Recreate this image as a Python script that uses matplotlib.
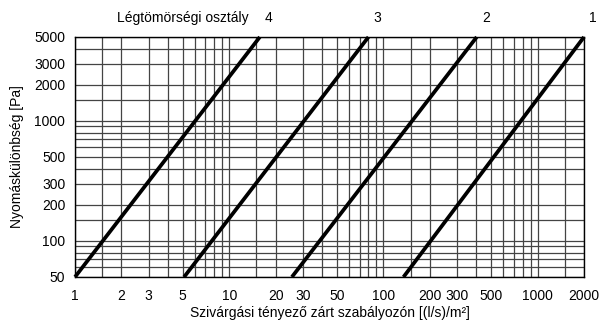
import matplotlib
matplotlib.use("Agg")
import matplotlib.pyplot as plt
from matplotlib.ticker import FixedLocator, NullFormatter

plt.rcParams['font.family'] = ['Liberation Sans', 'DejaVu Sans']

# leakage classes (lines)
classes = ['4', '3', '2', '1']
dp_ends = [50, 5000]                    # Pa
q_low = [1, 5.1, 25.5, 135]             # (l/s)/m2 at 50 Pa
q_high = [15.8, 80, 403, 2000]          # (l/s)/m2 at 5000 Pa

# axis ticks / grid
x_ticks = [1, 2, 3, 5, 10, 20, 30, 50, 100, 200, 300, 500, 1000, 2000]
y_ticks = [50, 100, 200, 300, 500, 1000, 2000, 3000, 5000]
mant = [1, 1.5, 2, 3, 4, 5, 6, 7, 8, 9]
x_grid = [m * 10**e for e in range(0, 4) for m in mant if m * 10**e <= 2000]
y_grid = [m * 10**e for e in range(1, 4) for m in mant if 50 <= m * 10**e <= 5000]

fig = plt.figure(figsize=(6.06, 3.2), dpi=100)
ax = fig.add_axes([75/606, 1-277/320, 509/606, 240/320])

ax.set_xscale('log')
ax.set_yscale('log')
ax.set_xlim(1, 2000)
ax.set_ylim(50, 5000)

ax.xaxis.set_minor_locator(FixedLocator(x_grid))
ax.yaxis.set_minor_locator(FixedLocator(y_grid))
ax.xaxis.set_minor_formatter(NullFormatter())
ax.yaxis.set_minor_formatter(NullFormatter())
ax.set_xticks(x_ticks, labels=[str(v) for v in x_ticks])
ax.set_yticks(y_ticks, labels=[str(v) for v in y_ticks])
ax.tick_params(which='both', length=0, labelsize=10)
ax.tick_params(axis='x', pad=9)
ax.tick_params(axis='y', pad=7)

ax.grid(which='both', color='#444444', lw=0.9)
ax.set_axisbelow(True)
for s in ax.spines.values():
    s.set_color('black')
    s.set_linewidth(1.0)

for name, a, b in zip(classes, q_low, q_high):
    ax.plot([a, b], dp_ends, color='black', lw=2.7, solid_capstyle='butt', zorder=3, clip_on=False)
    ax.annotate(name, xy=(b, dp_ends[1]), xytext=(6.5, 13.5), textcoords='offset points',
                ha='center', va='center', fontsize=10)

ax.annotate('Légtömörségi osztály', xy=(0.212, 1.079), xycoords='axes fraction',
            ha='center', va='center', fontsize=10)

ax.set_xlabel('Szivárgási tényező zárt szabályozón [(l/s)/m²]', fontsize=10, labelpad=1.5)
ax.set_ylabel('Nyomáskülönbség [Pa]', fontsize=10, labelpad=7)

fig.savefig('out.png', dpi=100)
